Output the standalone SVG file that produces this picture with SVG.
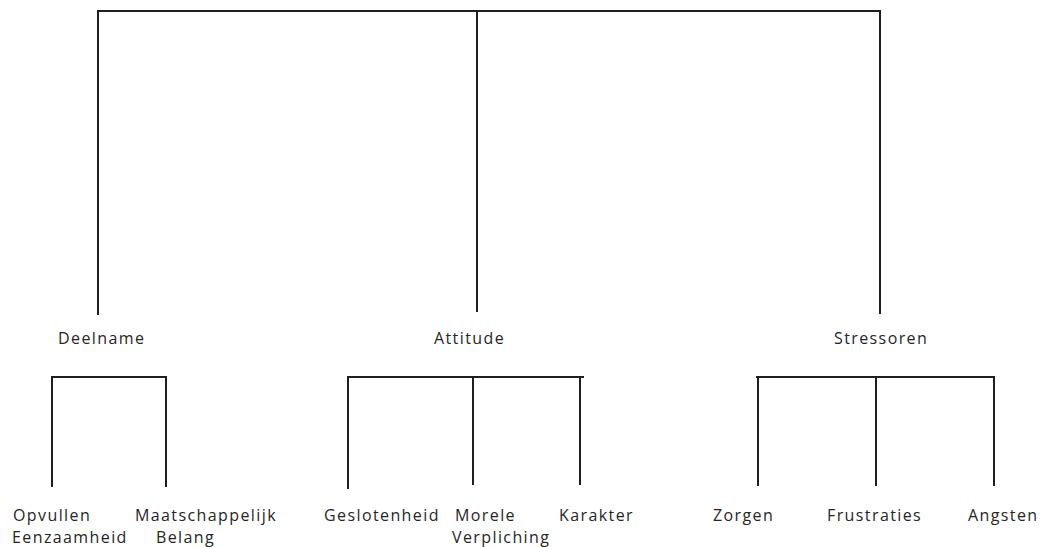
<svg xmlns="http://www.w3.org/2000/svg" width="1042" height="547" viewBox="0 0 1042 547">
<style>
.ln{stroke:#1e1e1e;stroke-width:2;fill:none;stroke-linecap:square}
.t{font-family:"Open Sans","Liberation Sans",sans-serif;font-size:16px;fill:#262626;letter-spacing:1.4px}
</style>
<rect width="1042" height="547" fill="#fff"/>
<g id="connectors">
<path class="ln" d="M98,11 H880 M98,11 V314 M477,11 V311 M880,11 V313"/>
<path class="ln" d="M52,377 H166 M52,377 V486 M166,377 V486"/>
<path class="ln" d="M348,377 H583 M348,377 V488 M473,377 V484 M580,377 V484"/>
<path class="ln" d="M757,377 H994 M758,377 V485 M876,377 V485 M994,377 V485"/>
</g>
<g id="deelname"><text class="t" x="58" y="344">Deelname</text></g>
<g id="attitude"><text class="t" x="434" y="344">Attitude</text></g>
<g id="stressoren"><text class="t" x="834" y="344">Stressoren</text></g>
<g id="opvullen"><text class="t"><tspan x="13" y="521">Opvullen</tspan><tspan x="12" y="543">Eenzaamheid</tspan></text></g>
<g id="maatschappelijk"><text class="t"><tspan x="135" y="521">Maatschappelijk</tspan><tspan x="156" y="543">Belang</tspan></text></g>
<g id="geslotenheid"><text class="t" x="324" y="521">Geslotenheid</text></g>
<g id="morele"><text class="t"><tspan x="455" y="521">Morele</tspan><tspan x="452" y="543">Verpliching</tspan></text></g>
<g id="karakter"><text class="t" x="559" y="521">Karakter</text></g>
<g id="zorgen"><text class="t" x="713" y="521">Zorgen</text></g>
<g id="frustraties"><text class="t" x="827" y="521">Frustraties</text></g>
<g id="angsten"><text class="t" x="968" y="521">Angsten</text></g>
</svg>
